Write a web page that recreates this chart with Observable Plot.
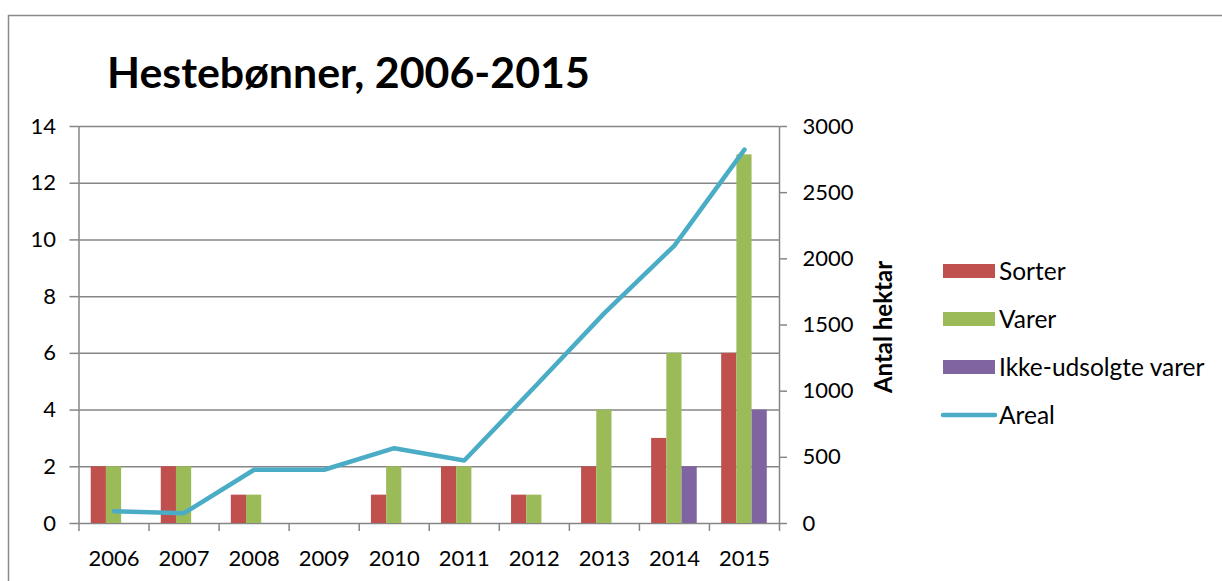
<!DOCTYPE html>
<html>
<head>
<meta charset="utf-8">
<script src="https://cdn.jsdelivr.net/npm/d3@7"></script>
<script src="https://cdn.jsdelivr.net/npm/@observablehq/plot@0.6"></script>
<style>
  html, body { margin: 0; padding: 0; background: #fff; overflow: hidden; }
  #chart svg { display: block; max-width: none !important; }
</style>
</head>
<body>
<div id="chart"></div>
<script>
const title = "Hestebønner, 2006-2015";
const years = ["2006","2007","2008","2009","2010","2011","2012","2013","2014","2015"];
const sorter = [2, 2, 1, 0, 1, 2, 1, 2, 3, 6];
const varer  = [2, 2, 1, 0, 2, 2, 1, 4, 6, 13];
const ikkeUdsolgte = [0, 0, 0, 0, 0, 0, 0, 0, 2, 4];
const areal = [93, 78, 406, 406, 569, 476, 1030, 1590, 2100, 2825];
const leftTicks = [0, 2, 4, 6, 8, 10, 12, 14];
const rightTicks = [0, 500, 1000, 1500, 2000, 2500, 3000];
const seriesNames = ["Sorter", "Varer", "Ikke-udsolgte varer", "Areal"];
const rightAxisLabel = "Antal hektar";

const colors = ["#c0504d", "#9bbb59", "#8064a2", "#4bacc6"];
const rightMax = 3000, leftMax = 14;
const toLeft = v => v * leftMax / rightMax;

const rows = vals => years.map((year, i) => ({year, value: vals[i]}));
const lineRows = years.map((year, i) => ({year, areal: areal[i]}));

const FONT = "Lato, 'Open Sans', sans-serif";
const grid = "#868686";

const W = 1222, H = 581, ML = 78.5, MR = 1222 - 779, MT = 126, MB = 581 - 523;
const band = (W - ML - MR) / years.length;
const bw = 15.2;
const inset = (band - bw) / 2;

const plot = Plot.plot({
  width: W,
  height: H,
  marginLeft: ML,
  marginRight: MR,
  marginTop: MT,
  marginBottom: MB,
  x: {domain: years, padding: 0, round: false, label: null},
  y: {domain: [0, leftMax], label: null},
  style: {fontFamily: FONT, fontSize: "22px", color: "#000", background: "#fff", overflow: "visible"},
  marks: [
    Plot.ruleY(leftTicks, {stroke: grid, strokeWidth: 1.5}),
    Plot.barY(rows(sorter), {x: "year", y: "value", fill: colors[0], dx: -bw, insetLeft: inset, insetRight: inset}),
    Plot.barY(rows(varer), {x: "year", y: "value", fill: colors[1], dx: 0, insetLeft: inset, insetRight: inset}),
    Plot.barY(rows(ikkeUdsolgte).filter(d => d.value > 0), {x: "year", y: "value", fill: colors[2], dx: bw, insetLeft: inset, insetRight: inset}),
    Plot.ruleX(years, {x: d => d, dx: -band / 2, y1: 0, y2: -0.28, stroke: grid, strokeWidth: 1.5}),
    Plot.ruleX([years[years.length - 1]], {x: d => d, dx: band / 2, y1: 0, y2: -0.28, stroke: grid, strokeWidth: 1.5}),
    Plot.ruleX([years[0]], {x: d => d, dx: -band / 2, y1: 0, y2: leftMax, stroke: grid, strokeWidth: 1.5}),
    Plot.ruleX([years[years.length - 1]], {x: d => d, dx: band / 2, y1: 0, y2: leftMax, stroke: grid, strokeWidth: 1.5}),
    Plot.line(lineRows, {x: "year", y: d => toLeft(d.areal), stroke: colors[3], strokeWidth: 4.5, strokeLinejoin: "round", strokeLinecap: "round"}),
    Plot.axisY(leftTicks, {anchor: "left", tickSize: 9, tickPadding: 14, stroke: grid, strokeWidth: 1.5, label: null}),
    Plot.axisY(rightTicks.map(toLeft), {anchor: "right", tickSize: 7, tickPadding: 16, stroke: grid, strokeWidth: 1.5, tickFormat: d => String(Math.round(d * rightMax / leftMax)), label: null}),
    Plot.axisX(years, {anchor: "bottom", tickSize: 0, tickPadding: 27, label: null})
  ]
});

document.getElementById("chart").appendChild(plot);

const svg = d3.select(plot);

// outer chart border
svg.insert("rect", ":first-child")
  .attr("x", 8.5).attr("y", 15.5).attr("width", 1222).attr("height", 600)
  .attr("fill", "none").attr("stroke", "#8a8a8a").attr("stroke-width", 1.5);

// title
const t = svg.append("text")
  .attr("x", 107).attr("y", 88).attr("text-anchor", "start")
  .attr("font-family", FONT).attr("font-weight", "bold").attr("font-size", 36)
  .attr("fill", "#000").text(title);
const tw = t.node().getComputedTextLength();
if (tw > 0) t.attr("font-size", 36 * 483 / tw);

// right axis label
svg.append("text")
  .attr("transform", "translate(892,327) rotate(-90)")
  .attr("text-anchor", "middle")
  .attr("font-family", FONT).attr("font-weight", "bold").attr("font-size", 24)
  .attr("fill", "#000").text(rightAxisLabel);

// legend
const ly = [271, 319, 367, 415];
const lg = svg.append("g").attr("font-family", FONT).attr("font-size", 24.5).attr("text-anchor", "start");
seriesNames.forEach((name, i) => {
  if (i < 3) {
    lg.append("rect").attr("x", 943).attr("y", ly[i] - 7).attr("width", 52).attr("height", 14).attr("fill", colors[i]);
  } else {
    lg.append("line").attr("x1", 943).attr("x2", 995).attr("y1", ly[i]).attr("y2", ly[i])
      .attr("stroke", colors[i]).attr("stroke-width", 4.5).attr("stroke-linecap", "round");
  }
  lg.append("text").attr("x", 999).attr("y", ly[i]).attr("dy", "0.35em").attr("fill", "#000").text(name);
});
</script>
</body>
</html>
